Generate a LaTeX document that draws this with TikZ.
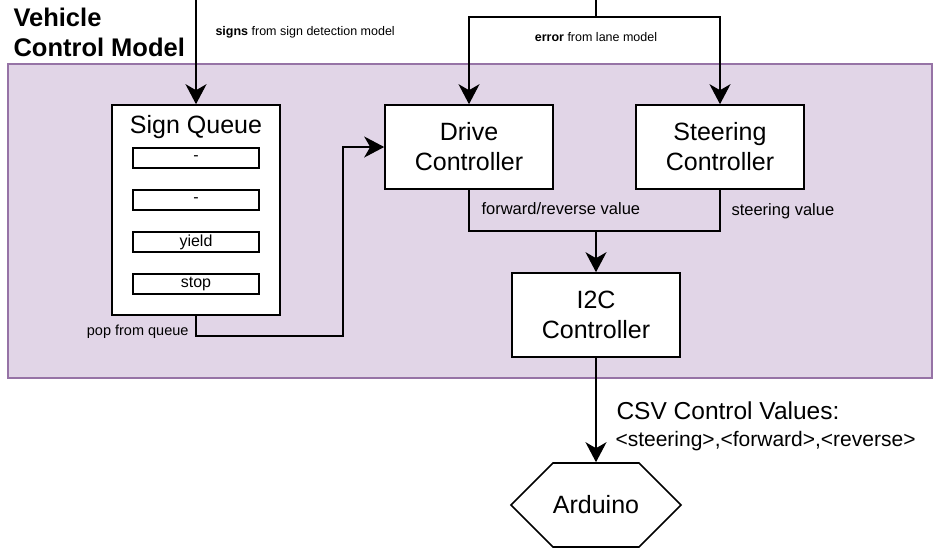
\documentclass[tikz,border=0pt]{standalone}
\usepackage{fontspec}
\setmainfont{Liberation Sans}
\usetikzlibrary{arrows.meta,shapes.symbols}

\begin{document}
\begin{tikzpicture}[x=1pt, y=-1pt,
  main node/.style={draw, line width=1.6pt, fill=white, align=center,
    minimum width=168pt, minimum height=84pt, font=\fontsize{25}{30}\selectfont},
  queue item/.style={draw, line width=1.6pt, fill=white, inner sep=0pt,
    minimum width=126pt, minimum height=20pt, font=\fontsize{16}{18}\selectfont},
  small label/.style={font=\fontsize{12.5}{15}\selectfont},
  value label/.style={font=\fontsize{16.5}{19}\selectfont},
  arr/.style={line width=1.6pt, -{Stealth[length=20pt, width=21pt, inset=6pt]}},
  line/.style={line width=1.6pt}]
\useasboundingbox (0,0) rectangle (938,555);
\draw[fill={rgb,255:red,225;green,213;blue,231}, draw={rgb,255:red,150;green,115;blue,166}, line width=1.4pt]
  (8,64) rectangle (932,378);
\node[anchor=west, align=left, font=\bfseries\fontsize{25.5}{30}\selectfont] (title) at (10,32) {Vehicle\\Control Model};

\node[main node, minimum height=210pt] (sq) at (196,210) {};
\node[anchor=north, font=\fontsize{25}{30}\selectfont] (sqt) at ([yshift=-8pt]sq.north) {Sign Queue};
\foreach \i/\t in {1/-,2/-,3/yield,4/stop}
  \node[queue item] (item\i) at (196,{158+42*(\i-1)}) {\t};

\node[main node] (dc) at (469,147) {Drive\\Controller};
\node[main node, right of=dc, node distance=251pt] (sc) {Steering\\Controller};
\node[main node] (i2c) at (596,315) {I2C\\Controller};
\node[draw, line width=1.6pt, fill=white, signal, signal to=west and east, signal pointer angle=90,
  minimum width=168pt, minimum height=84pt, inner sep=0pt, font=\fontsize{25}{30}\selectfont] (ard) at (596,505) {Arduino};

\coordinate (signtop) at (196,0);
\coordinate (errtop) at (596,0);
\coordinate (errsplit) at (596,17);
\coordinate (merge) at (596,231);
\coordinate (popturn) at (343,336);

\draw[arr] (signtop) -- (sq);
\node[small label, anchor=west] (signlbl) at (212,32) {\textbf{signs} from sign detection model};

\draw[line] (errtop) -- (errsplit);
\draw[arr] (errsplit) -| (dc);
\draw[arr] (errsplit) -| (sc);
\node[small label] (errlbl) at (596,37) {\textbf{error} from lane model};

\draw[line] (dc.south) |- (merge) -| (sc.south);
\draw[arr] (merge) -- (i2c);
\node[value label, anchor=west] (fwdlbl) at (478,209) {forward/reverse value};
\node[value label, anchor=west] (strlbl) at (728,211) {steering value};

\draw[arr] (sq.south) |- (popturn) |- (dc.west);
\node[font=\fontsize{14.5}{17}\selectfont, anchor=east] (poplbl) at (192,332) {pop from queue};

\draw[arr] (i2c) -- (ard);
\node[anchor=west, align=left, font=\fontsize{24.5}{29}\selectfont] (csvlbl) at (613,411) {CSV Control Values:};
\node[anchor=west, font=\fontsize{21}{25}\selectfont] (csvfmt) at (612,441) {<steering>,<forward>,<reverse>};
\end{tikzpicture}
\end{document}
